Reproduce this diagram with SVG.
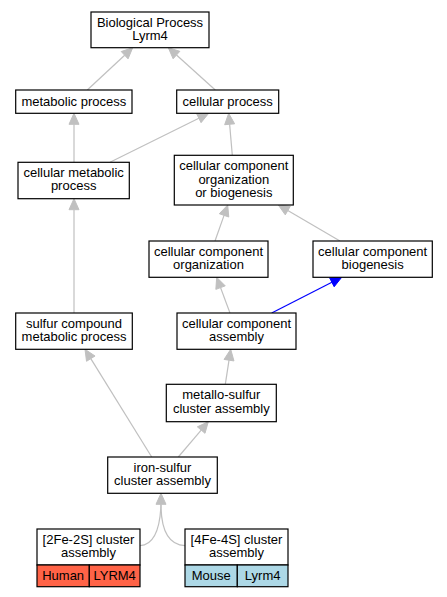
<svg xmlns="http://www.w3.org/2000/svg" width="447" height="597" viewBox="0 0 447 597">
<style>
.n{fill:#fff;stroke:#000;stroke-width:1.2}
.t{font-family:"Liberation Sans",Arial,sans-serif;font-size:13px;fill:#000;text-anchor:middle}
.e{fill:none;stroke:#c0c0c0;stroke-width:1.2}
.a{fill:#c0c0c0;stroke:#c0c0c0;stroke-width:1}
.eb{fill:none;stroke:#0000ff;stroke-width:1.2}
.ab{fill:#0000ff;stroke:#0000ff;stroke-width:1}
.hu{fill:#ff6347;stroke:#000;stroke-width:1.2}
.mo{fill:#add8e6;stroke:#000;stroke-width:1.2}
</style>
<rect width="447" height="597" fill="#fff"/>
<g id="connectors">
<path class="e" d="M87.3,90 L124.65,55.2"/><polygon class="a" points="132.7,47.7 128.06,58.86 121.24,51.54"/>
<path class="e" d="M215.3,90 L176.48,55.06"/><polygon class="a" points="168.3,47.7 179.83,51.34 173.13,58.78"/>
<path class="e" d="M74,162.3 L74,124.3"/><polygon class="a" points="74,113.3 69,124.3 79,124.3"/>
<path class="e" d="M110,162.3 L198.85,118.19"/><polygon class="a" points="208.7,113.3 201.07,122.67 196.63,113.71"/>
<path class="e" d="M232.3,155.3 L229.64,124.26"/><polygon class="a" points="228.7,113.3 234.62,123.83 224.66,124.69"/>
<path class="e" d="M215,241 L224.04,215.37"/><polygon class="a" points="227.7,205 228.76,217.03 219.32,213.71"/>
<path class="e" d="M340,241 L287.8,210.54"/><polygon class="a" points="278.3,205 290.32,206.22 285.28,214.86"/>
<path class="e" d="M74,313 L74,209.7"/><polygon class="a" points="74,198.7 69,209.7 79,209.7"/>
<path class="e" d="M230,313 L220.54,287.61"/><polygon class="a" points="216.7,277.3 225.23,285.86 215.85,289.36"/>
<path class="eb" d="M271.7,313 L331.9,282.3"/><polygon class="ab" points="341.7,277.3 334.17,286.75 329.63,277.85"/>
<path class="e" d="M225.3,384.3 L229.02,360.17"/><polygon class="a" points="230.7,349.3 233.96,360.93 224.08,359.41"/>
<path class="e" d="M151.7,457 L90.79,358.65"/><polygon class="a" points="85,349.3 95.04,356.02 86.54,361.28"/>
<path class="e" d="M178.3,457 L201.18,430.08"/><polygon class="a" points="208.3,421.7 204.99,433.32 197.37,426.84"/>
<path class="e" d="M140,545.7 C152,545 160,532 161,504.3"/>
<path class="e" d="M185,545.7 C170,545 161,532 161,504.3"/>
<polygon class="a" points="161,493.3 156,504.3 166,504.3"/>
</g>
<g id="bp"><rect class="n" x="91" y="12" width="118" height="35.7"/><text class="t" x="150" y="26.6">Biological Process</text><text class="t" x="150" y="40">Lyrm4</text></g>
<g id="metabolic"><rect class="n" x="15.7" y="90" width="116.3" height="23.3"/><text class="t" x="73.85" y="106">metabolic process</text></g>
<g id="cellular"><rect class="n" x="176.7" y="90" width="102" height="23.3"/><text class="t" x="227.7" y="106">cellular process</text></g>
<g id="cellmetab"><rect class="n" x="18" y="162.3" width="111.3" height="36.4"/><text class="t" x="73.65" y="176.8">cellular metabolic</text><text class="t" x="73.65" y="190.2">process</text></g>
<g id="ccoob"><rect class="n" x="174.3" y="155.3" width="119" height="49.7"/><text class="t" x="233.8" y="170.2">cellular component</text><text class="t" x="233.8" y="183.6">organization</text><text class="t" x="233.8" y="197">or biogenesis</text></g>
<g id="cco"><rect class="n" x="149" y="241" width="119" height="36.3"/><text class="t" x="208.5" y="255.5">cellular component</text><text class="t" x="208.5" y="268.9">organization</text></g>
<g id="ccb"><rect class="n" x="313" y="241" width="119.3" height="36.3"/><text class="t" x="372.65" y="255.5">cellular component</text><text class="t" x="372.65" y="268.9">biogenesis</text></g>
<g id="sulfur"><rect class="n" x="15.7" y="313" width="116.6" height="36.3"/><text class="t" x="74" y="327.5">sulfur compound</text><text class="t" x="74" y="340.9">metabolic process</text></g>
<g id="cca"><rect class="n" x="177" y="313" width="119" height="36.3"/><text class="t" x="236.5" y="327.5">cellular component</text><text class="t" x="236.5" y="340.9">assembly</text></g>
<g id="msca"><rect class="n" x="166.3" y="384.3" width="110" height="37.4"/><text class="t" x="221.3" y="399.3">metallo-sulfur</text><text class="t" x="221.3" y="412.7">cluster assembly</text></g>
<g id="isca"><rect class="n" x="107.7" y="457" width="109.6" height="36.3"/><text class="t" x="162.5" y="471.5">iron-sulfur</text><text class="t" x="162.5" y="484.9">cluster assembly</text></g>
<g id="fe2s2"><rect class="n" x="37" y="529" width="103" height="36"/><text class="t" x="88.5" y="543.8">[2Fe-2S] cluster</text><text class="t" x="88.5" y="557.2">assembly</text>
<rect class="hu" x="37" y="565" width="52.3" height="21.7"/><rect class="hu" x="89.3" y="565" width="50.7" height="21.7"/>
<text class="t" x="63.15" y="580.3">Human</text><text class="t" x="114.65" y="580.3">LYRM4</text></g>
<g id="fe4s4"><rect class="n" x="185" y="529" width="103" height="36"/><text class="t" x="236.5" y="543.8">[4Fe-4S] cluster</text><text class="t" x="236.5" y="557.2">assembly</text>
<rect class="mo" x="185" y="565" width="52.3" height="21.7"/><rect class="mo" x="237.3" y="565" width="50.7" height="21.7"/>
<text class="t" x="211.15" y="580.3">Mouse</text><text class="t" x="262.65" y="580.3">Lyrm4</text></g>
</svg>
